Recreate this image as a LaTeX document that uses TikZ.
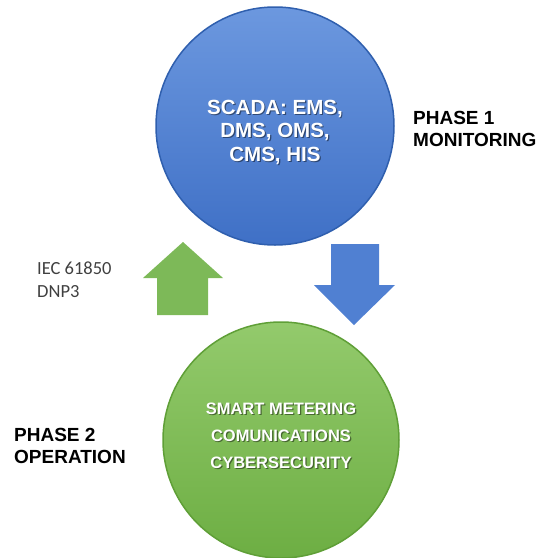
\documentclass[tikz,border=0pt]{standalone}
\usepackage{fontspec}
\setmainfont{Liberation Sans}
\newfontfamily\calib{Carlito}
\usepackage{tikz}
\usetikzlibrary{positioning}

\definecolor{scadatop}{HTML}{6C98DF}
\definecolor{scadabot}{HTML}{3F70C6}
\definecolor{scadaedge}{HTML}{2F5FAE}
\definecolor{metertop}{HTML}{93CA6C}
\definecolor{meterbot}{HTML}{6DAE43}
\definecolor{meteredge}{HTML}{5F9F37}
\definecolor{uparrow}{HTML}{7DB958}
\definecolor{downarrow}{HTML}{5080D2}
\definecolor{labgray}{HTML}{404040}

\newcommand{\scadatxt}{SCADA: EMS,\\DMS, OMS,\\CMS, HIS}
\newcommand{\metertxt}{SMART METERING\\COMUNICATIONS\\CYBERSECURITY}

\tikzset{
    phase/.style={circle,inner sep=0pt,line width=1.5pt},
    phasetext/.style={align=center,text=white,inner sep=0pt},
    phaseshadow/.style={phasetext,text=black,text opacity=0.45,xshift=1.2pt},
    phaselabel/.style={align=left,anchor=west,inner sep=0pt,
        font=\bfseries\fontsize{19}{22}\selectfont},
}

\begin{document}
\begin{tikzpicture}[x=1pt,y=-1pt]
    \useasboundingbox (0,0) rectangle (547,558);
    % the two phases
    \node[phase,minimum size=238pt,draw=scadaedge,top color=scadatop,bottom color=scadabot,
        label={[phaseshadow,yshift=-7.2pt,font=\bfseries\fontsize{20.5}{23.5}\selectfont]center:\scadatxt},
        label={[phasetext,yshift=-6pt,font=\bfseries\fontsize{20.5}{23.5}\selectfont]center:\scadatxt}]
        (scada) at (275,126) {};
    \node[phase,minimum size=236pt,draw=meteredge,top color=metertop,bottom color=meterbot,
        label={[phaseshadow,yshift=2.8pt,font=\bfseries\fontsize{16.5}{27}\selectfont]center:\metertxt},
        label={[phasetext,yshift=4pt,font=\bfseries\fontsize{16.5}{27}\selectfont]center:\metertxt}]
        (meter) at (281,440) {};
    % labels
    \node[phaselabel] (mon) at (413,129) {PHASE 1\\MONITORING};
    \node[phaselabel] (oper) at (14,446) {PHASE 2\\OPERATION};
    \node[align=left,anchor=west,inner sep=0pt,text=labgray,
        font=\calib\fontsize{18.5}{23}\selectfont] (proto) at (37,280) {IEC 61850\\DNP3};
    % block arrows
    \fill[uparrow] (157,315) -- (157,278) -- (143,278) -- (183,242)
        -- (223,278) -- (208,278) -- (208,315) -- cycle;
    \fill[downarrow] (331,244) -- (379,244) -- (379,285) -- (395,285)
        -- (354,325) -- (314,285) -- (331,285) -- cycle;
\end{tikzpicture}
\end{document}
